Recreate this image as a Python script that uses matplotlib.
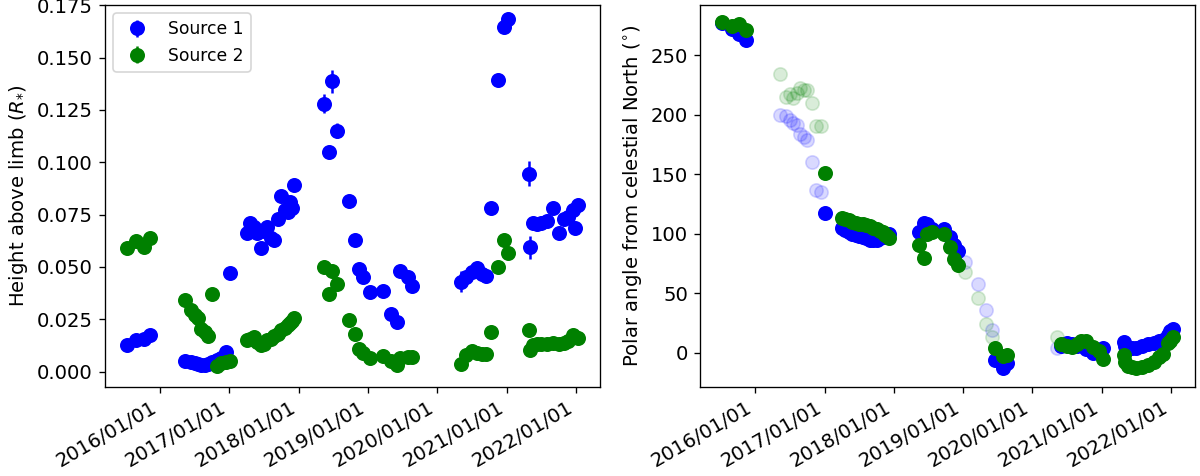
import matplotlib
matplotlib.use('Agg')
import matplotlib.pyplot as plt
import matplotlib.dates as mdates
from datetime import datetime, timedelta

# Observation epochs (decimal years)
epochs = [
    2015.52, 2015.66, 2015.77, 2015.86,
    2016.36, 2016.45, 2016.50, 2016.55, 2016.60, 2016.65, 2016.70, 2016.75, 2016.82, 2016.88, 2016.95, 2017.01,
    2017.25, 2017.30, 2017.35, 2017.40, 2017.45, 2017.50, 2017.55, 2017.60, 2017.65, 2017.70, 2017.75, 2017.80,
    2017.84, 2017.87, 2017.90, 2017.93,
    2018.36, 2018.44, 2018.48, 2018.55, 2018.73, 2018.81, 2018.87, 2018.93,
    2019.03, 2019.22, 2019.33, 2019.42, 2019.46, 2019.58, 2019.64,
    2020.35, 2020.42, 2020.50, 2020.57, 2020.64, 2020.71, 2020.78, 2020.88, 2020.96, 2021.02,
    2021.32, 2021.34, 2021.38, 2021.44, 2021.50, 2021.58, 2021.67, 2021.76, 2021.82, 2021.89, 2021.96, 2021.99, 2022.03,
]

height_src1 = [
    0.0129, 0.0149, 0.0154, 0.0173,
    0.0049, 0.0045, 0.0041, 0.0036, 0.0033, 0.0033, 0.0036, 0.0045, 0.0055, 0.0066, 0.0094, 0.047,
    0.066, 0.071, 0.069, 0.066, 0.059, 0.067, 0.069, 0.064, 0.063, 0.073, 0.084, 0.077,
    0.076, 0.081, 0.078, 0.089,
    0.128, 0.105, 0.1386, 0.115, 0.0815, 0.0628, 0.0489, 0.0453,
    0.0381, 0.0384, 0.0275, 0.0238, 0.0481, 0.0453, 0.0408,
    0.043, 0.0454, 0.0478, 0.0494, 0.0465, 0.0459, 0.0782, 0.1393, 0.1645, 0.1685,
    0.0945, 0.0595, 0.0708, 0.0705, 0.0710, 0.0721, 0.0782, 0.0664, 0.0729, 0.0737, 0.077, 0.0685, 0.0794,
]
height_err1 = [
    0.0015, 0.0015, 0.0015, 0.0015,
    0.0010, 0.0010, 0.0010, 0.0010, 0.0010, 0.0010, 0.0010, 0.0010, 0.0010, 0.0010, 0.0010, 0.0015,
    0.0015, 0.0015, 0.0015, 0.0015, 0.0015, 0.0015, 0.0015, 0.0015, 0.0015, 0.0015, 0.0015, 0.0015,
    0.0015, 0.0015, 0.0015, 0.0015,
    0.0044, 0.0020, 0.0055, 0.0036, 0.0020, 0.0015, 0.0015, 0.0015,
    0.0015, 0.0015, 0.0015, 0.0015, 0.0015, 0.0015, 0.0015,
    0.0049, 0.0020, 0.0020, 0.0020, 0.0015, 0.0015, 0.0020, 0.0020, 0.0020, 0.0020,
    0.0060, 0.0055, 0.0020, 0.0015, 0.0015, 0.0015, 0.0015, 0.0015, 0.0015, 0.0015, 0.0015, 0.0015, 0.0015,
]
height_src2 = [
    0.0588, 0.0624, 0.0595, 0.0637,
    0.0343, 0.0292, 0.0272, 0.0255, 0.0204, 0.019, 0.017, 0.037, 0.0025, 0.004, 0.0046, 0.005,
    0.0153, 0.0155, 0.0163, 0.0143, 0.0125, 0.013, 0.015, 0.0158, 0.0168, 0.018, 0.0198, 0.021,
    0.0222, 0.0232, 0.0243, 0.0255,
    0.050, 0.0373, 0.0479, 0.0418, 0.0248, 0.0178, 0.0109, 0.009,
    0.0065, 0.0076, 0.0049, 0.0033, 0.0065, 0.007, 0.0068,
    0.0037, 0.0081, 0.0097, 0.0089, 0.0086, 0.0086, 0.019, 0.0498, 0.0627, 0.0567,
    0.0199, 0.0102, 0.0125, 0.013, 0.013, 0.0132, 0.0138, 0.013, 0.0135, 0.0146, 0.0173, 0.0165, 0.0162,
]
height_err2 = [0.001] * len(height_src2)

angle_src1 = [
    277, 272, 268, 263,
    200, 199, 195.5, 193, 191, 184, 181, 179, 160, 137, 135, 117,
    105, 103, 101, 100, 99, 98, 97, 96, 95, 95, 95, 96,
    97, 98, 99, 100,
    101.7, 109, 108, 104, 104, 97, 90, 85,
    76, 58, 36, 19, -6, -13, -9,
    4, 6, 8, 7, 6, 7, 3, 0, 1, 4,
    9, 6, 4, 4, 4, 6, 7, 8, 10, 11, 15, 18, 20,
]
angle_src2 = [
    278, 274, 276, 271,
    234, 215, 217, 214, 218, 222, 221, 221, 210, 190.5, 190.5, 151,
    113, 112, 111, 110, 109, 108, 108, 107, 106, 105, 104, 102,
    101, 99, 98, 96,
    90.5, 79.3, 100, 101.7, 100, 89, 79, 73.7,
    68, 46, 24, 13, 4, -3, -2,
    13, 7, 6, 5, 7, 10, 10, 5, 1, -5,
    -2, -8, -11, -12, -13, -12, -10, -8, -4, -1, 8, 10, 13,
]
angle_reliable = (
    [True] * 4
    + [False] * 11 + [True]
    + [True] * 16
    + [True] * 8
    + [False] * 4 + [True] * 3
    + [False] + [True] * 9
    + [True] * 13
)


def to_date(y):
    yr = int(y)
    return datetime(yr, 1, 1) + timedelta(days=(y - yr) * 365.25)


dates = [to_date(e) for e in epochs]

FS = 11.75
fig = plt.figure(figsize=(10, 476 / 120), dpi=120)
ax1 = fig.add_axes([0.0872, 0.1876, 0.5 - 0.0872, 0.990 - 0.1876])
ax2 = fig.add_axes([0.5833, 0.1876, 0.9958 - 0.5833, 0.990 - 0.1876])

ax1.errorbar(dates, height_src1, yerr=height_err1, fmt='o', color='blue', markersize=8, label='Source 1')
ax1.errorbar(dates, height_src2, yerr=height_err2, fmt='o', color='green', markersize=8, label='Source 2')
ax1.set_ylabel(r'Height above limb ($R_{*}$)', fontsize=FS)
ax1.legend(loc='upper left', fontsize=10.3)
ax1.set_ylim(-0.0072, 0.1752)

for src, col in ((angle_src1, 'blue'), (angle_src2, 'green')):
    d_bad = [d for d, r in zip(dates, angle_reliable) if not r]
    v_bad = [v for v, r in zip(src, angle_reliable) if not r]
    ax2.plot(d_bad, v_bad, 'o', color=col, markersize=8, alpha=0.15)
for src, col in ((angle_src1, 'blue'), (angle_src2, 'green')):
    d_ok = [d for d, r in zip(dates, angle_reliable) if r]
    v_ok = [v for v, r in zip(src, angle_reliable) if r]
    ax2.plot(d_ok, v_ok, 'o', color=col, markersize=8)
ax2.set_ylabel(r'Polar angle from celestial North ($^{\circ}$)', fontsize=FS)
ax2.set_ylim(-28.6, 292.2)

xmin = to_date(2015.2024)
xmax = to_date(2022.3465)
for ax in (ax1, ax2):
    ax.set_xlim(xmin, xmax)
    ax.xaxis.set_major_locator(mdates.YearLocator())
    ax.xaxis.set_major_formatter(mdates.DateFormatter('%Y/%m/%d'))
    ax.tick_params(labelsize=FS)
    for lab in ax.get_xticklabels():
        lab.set_rotation(30)
        lab.set_ha('right')

fig.savefig('out.png', dpi=120)
